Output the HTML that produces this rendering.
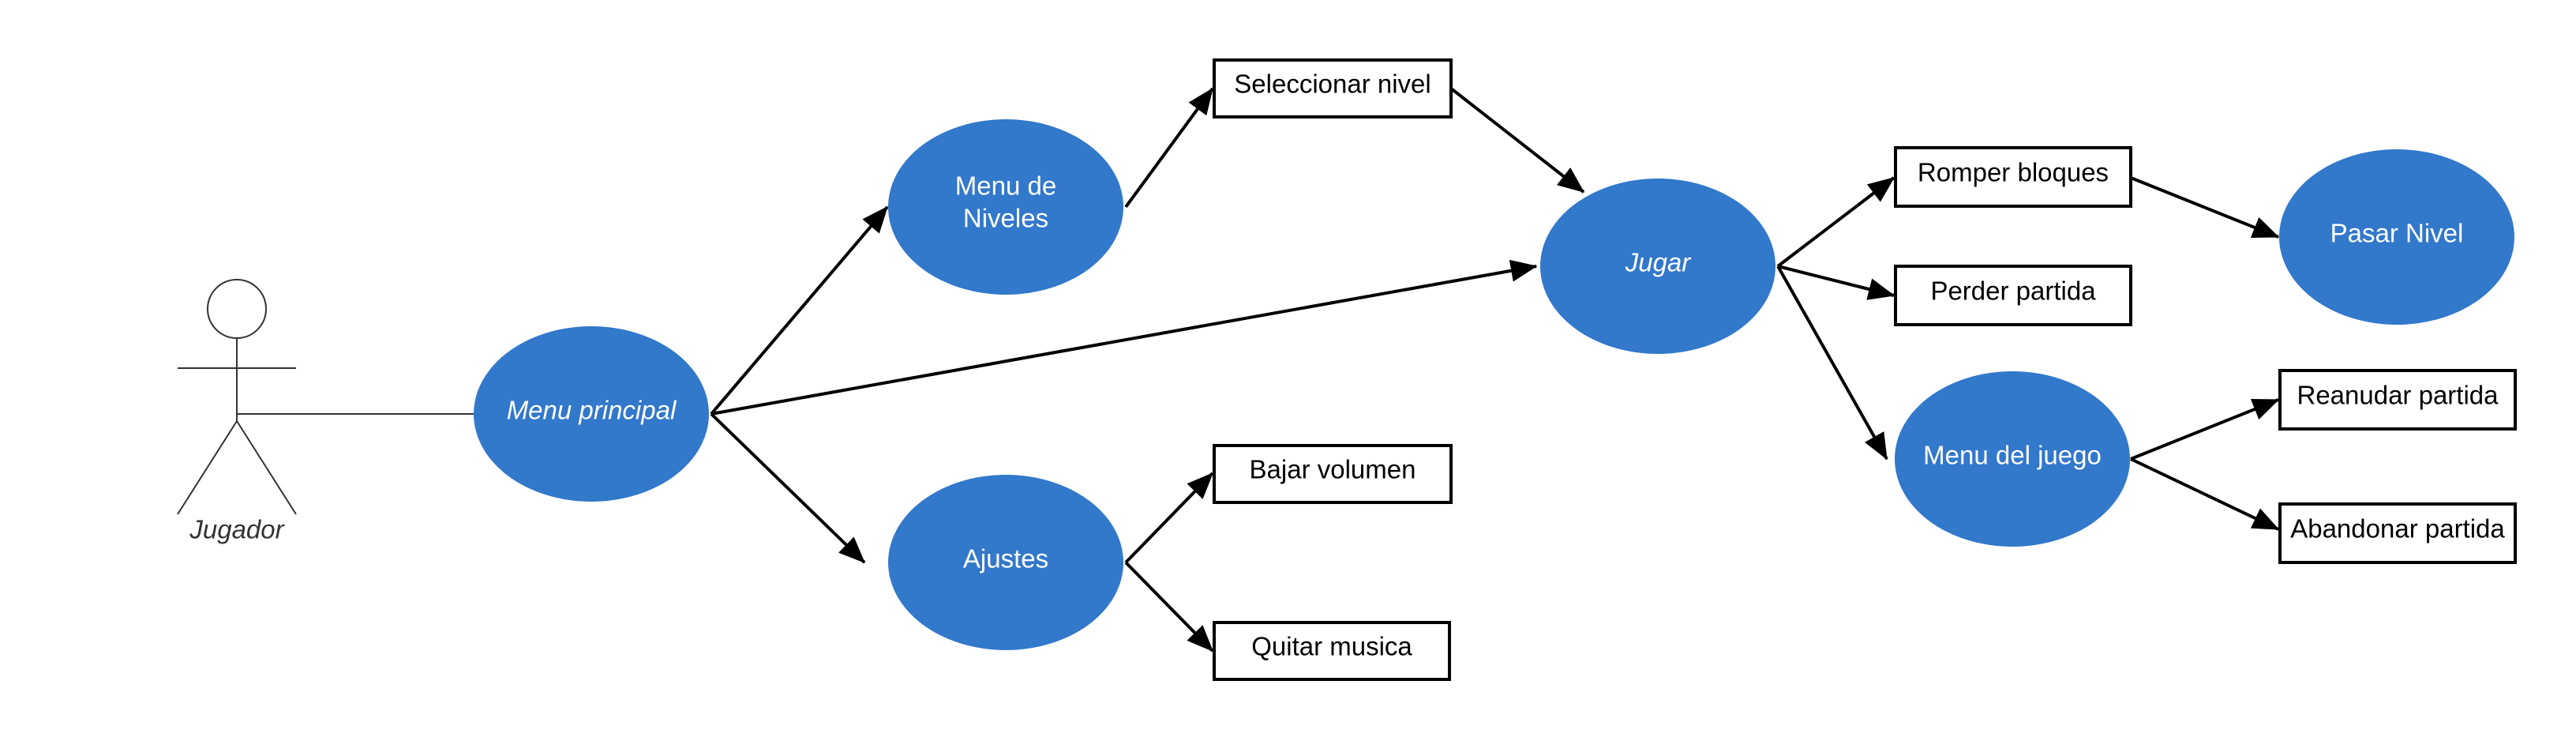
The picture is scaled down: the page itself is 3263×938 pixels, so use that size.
<!DOCTYPE html>
<html><head><meta charset="utf-8"><style>
html,body{margin:0;padding:0;background:#fff;}
svg{display:block;}
text{font-family:"Liberation Sans",sans-serif;font-size:33px;text-anchor:middle;dominant-baseline:central;}
.w{fill:#fff;}
.i{font-style:italic;}
</style></head><body>
<svg width="3263" height="938" viewBox="0 0 3263 938" xmlns="http://www.w3.org/2000/svg">
<defs>
<marker id="ar" viewBox="0 0 12 10" refX="11.5" refY="5" markerWidth="34" markerHeight="28" markerUnits="userSpaceOnUse" orient="auto"><path d="M0,0 L12,5 L0,10 Z" fill="#000"/></marker>
</defs>
<g stroke="#333" stroke-width="2" fill="none">
<circle cx="300" cy="391" r="37" fill="#fff"/>
<line x1="300" y1="428" x2="300" y2="533"/>
<line x1="225" y1="466" x2="375" y2="466"/>
<line x1="300" y1="533" x2="225" y2="651"/>
<line x1="300" y1="533" x2="375" y2="651"/>
<line x1="300" y1="524" x2="601" y2="524"/>
</g>
<text x="300" y="670" class="i" fill="#333">Jugador</text>
<g stroke="#000" stroke-width="4" fill="none" marker-end="url(#ar)">
<line x1="901" y1="524" x2="1124" y2="262"/>
<line x1="901" y1="524" x2="1095" y2="712"/>
<line x1="901" y1="524" x2="1946" y2="337"/>
<line x1="1426" y1="262" x2="1536" y2="112"/>
<line x1="1426" y1="712" x2="1536" y2="599"/>
<line x1="1426" y1="712" x2="1536" y2="824"/>
<line x1="1838" y1="112" x2="2006" y2="243"/>
<line x1="2252" y1="337" x2="2399" y2="225"/>
<line x1="2252" y1="337" x2="2399" y2="374"/>
<line x1="2252" y1="337" x2="2390" y2="581"/>
<line x1="2699" y1="225" x2="2886" y2="300"/>
<line x1="2699" y1="581" x2="2886" y2="506"/>
<line x1="2699" y1="581" x2="2886" y2="670"/>
</g>
<g fill="#3278cb">
<ellipse cx="749" cy="524" rx="149" ry="111"/>
<ellipse cx="1274" cy="262" rx="149" ry="111"/>
<ellipse cx="1274" cy="712" rx="149" ry="111"/>
<ellipse cx="2100" cy="337" rx="149" ry="111"/>
<ellipse cx="3036" cy="300" rx="149" ry="111"/>
<ellipse cx="2549" cy="581" rx="149" ry="111"/>
</g>
<text x="749" y="519" class="w i">Menu principal</text>
<text x="1274" y="235" class="w">Menu de</text>
<text x="1274" y="276" class="w">Niveles</text>
<text x="1274" y="707" class="w">Ajustes</text>
<text x="2100" y="332" class="w i">Jugar</text>
<text x="3036" y="295" class="w">Pasar Nivel</text>
<text x="2549" y="576" class="w">Menu del juego</text>
<g fill="#fff" stroke="#000" stroke-width="4">
<rect x="1538" y="76" width="300" height="72"/>
<rect x="1538" y="564" width="300" height="72"/>
<rect x="1538" y="788" width="298" height="72"/>
<rect x="2401" y="187" width="298" height="74"/>
<rect x="2401" y="337" width="298" height="74"/>
<rect x="2888" y="469" width="298" height="74"/>
<rect x="2888" y="638" width="298" height="74"/>
</g>
<text x="1688" y="106">Seleccionar nivel</text>
<text x="1688" y="594">Bajar volumen</text>
<text x="1687" y="818">Quitar musica</text>
<text x="2550" y="218">Romper bloques</text>
<text x="2550" y="368">Perder partida</text>
<text x="3037" y="500">Reanudar partida</text>
<text x="3037" y="669">Abandonar partida</text>
</svg>
</body></html>
